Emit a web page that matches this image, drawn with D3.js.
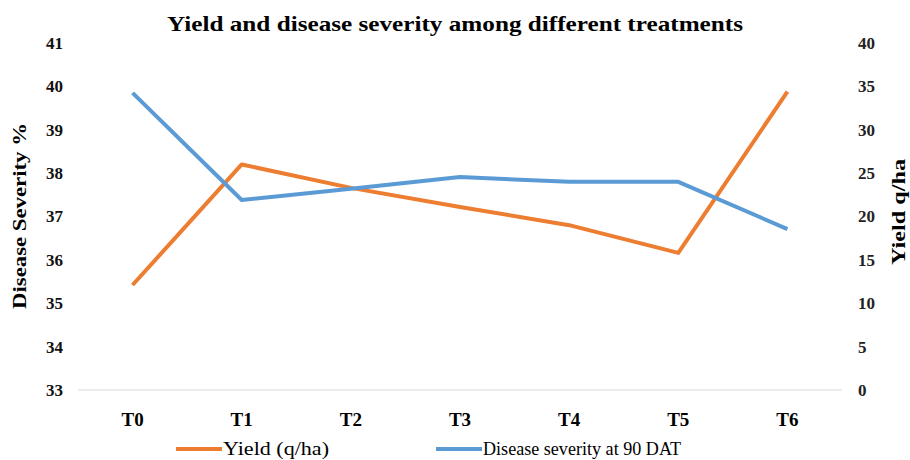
<!DOCTYPE html>
<html><head><meta charset="utf-8">
<script src="https://cdn.jsdelivr.net/npm/d3@7/dist/d3.min.js"></script>
<style>body{margin:0;background:#fff}svg{display:block}</style>
</head><body>
<script>
const categories = ["T0","T1","T2","T3","T4","T5","T6"];
const yieldValues = [12.1, 26.0, 23.3, 21.1, 19.0, 15.8, 34.4];
const severityValues = [39.85, 37.38, 37.64, 37.91, 37.80, 37.80, 36.71];
const leftTicks = [33,34,35,36,37,38,39,40,41];
const leftTickLabels = ["33","34","35","36","37","38","39","40","41"];
const rightTicks = [0,5,10,15,20,25,30,35,40];
const seriesNames = ["Yield (q/ha)", "Disease severity at 90 DAT"];
const title = "Yield and disease severity among different treatments";

const FONT = '"Liberation Serif"';
const W = 910, H = 460;
const svg = d3.select("body").append("svg").attr("width", W).attr("height", H);
const x = d3.scaleBand().domain(categories).range([78, 842]);
const yL = d3.scaleLinear().domain([33, 41]).range([390, 43]);
const yR = d3.scaleLinear().domain([0, 40]).range([390, 43]);
const cx = d => x(d) + x.bandwidth() / 2;

// baseline
svg.append("line").attr("x1", 78).attr("x2", 842).attr("y1", yL(33)).attr("y2", yL(33))
  .attr("stroke", "#d9d9d9").attr("stroke-width", 1);

// left axis
const gL = svg.append("g").attr("transform", "translate(63,0)")
  .call(d3.axisLeft(yL).tickValues(leftTicks).tickFormat((d,i) => leftTickLabels[i]).tickSize(0).tickPadding(0));
gL.select(".domain").remove();
gL.attr("font-family", null).attr("font-size", null);
gL.selectAll("text").style("font-family", FONT).style("font-size", "17px").style("font-weight", "bold").attr("fill", "#111");

// right axis
const gR = svg.append("g").attr("transform", "translate(858,0)")
  .call(d3.axisRight(yR).tickValues(rightTicks).tickSize(0).tickPadding(0));
gR.select(".domain").remove();
gR.attr("font-family", null).attr("font-size", null);
gR.selectAll("text").style("font-family", FONT).style("font-size", "17px").style("font-weight", "bold").attr("fill", "#222");

// x axis labels
const gX = svg.append("g").attr("transform", "translate(0,412)")
  .call(d3.axisBottom(x).tickSize(0).tickPadding(0));
gX.select(".domain").remove();
gX.attr("font-family", null).attr("font-size", null);
gX.selectAll("text").style("font-family", FONT).style("font-size", "19px").style("font-weight", "bold").attr("fill", "#000");

// lines
const lineY = d3.line().x((d,i) => cx(categories[i])).y(d => yR(d));
const lineS = d3.line().x((d,i) => cx(categories[i])).y(d => yL(d));
svg.append("path").datum(yieldValues).attr("d", lineY).attr("fill", "none")
  .attr("stroke", "#ED7D31").attr("stroke-width", 4).attr("stroke-linejoin", "round");
svg.append("path").datum(severityValues).attr("d", lineS).attr("fill", "none")
  .attr("stroke", "#5B9BD5").attr("stroke-width", 4).attr("stroke-linejoin", "round");

// title
svg.append("text").attr("x", 455).attr("y", 31).attr("text-anchor", "middle")
  .style("font-family", FONT).style("font-size", "22px").style("font-weight", "bold")
  .attr("textLength", 576).attr("lengthAdjust", "spacingAndGlyphs").text(title);

// axis titles
svg.append("text").attr("transform", "translate(26,216) rotate(-90)").attr("text-anchor", "middle")
  .style("font-family", FONT).style("font-size", "19px").style("font-weight", "bold")
  .attr("textLength", 186).attr("lengthAdjust", "spacingAndGlyphs").text("Disease Severity %");
svg.append("text").attr("transform", "translate(905,212) rotate(-90)").attr("text-anchor", "middle")
  .style("font-family", FONT).style("font-size", "19px").style("font-weight", "bold")
  .attr("textLength", 106).attr("lengthAdjust", "spacingAndGlyphs").text("Yield q/ha");

// legend
const legendColors = ["#ED7D31", "#5B9BD5"];
const legendX = [176, 436];
const legendTextLen = [106, 198];
const lg = svg.append("g");
seriesNames.forEach((n, i) => {
  lg.append("line").attr("x1", legendX[i]).attr("x2", legendX[i] + 46).attr("y1", 449).attr("y2", 449)
    .attr("stroke", legendColors[i]).attr("stroke-width", 4);
  lg.append("text").attr("x", legendX[i] + 47).attr("y", 455)
    .style("font-family", FONT).style("font-size", "18px")
    .attr("textLength", legendTextLen[i]).attr("lengthAdjust", "spacingAndGlyphs").text(n);
});
</script>
</body></html>
